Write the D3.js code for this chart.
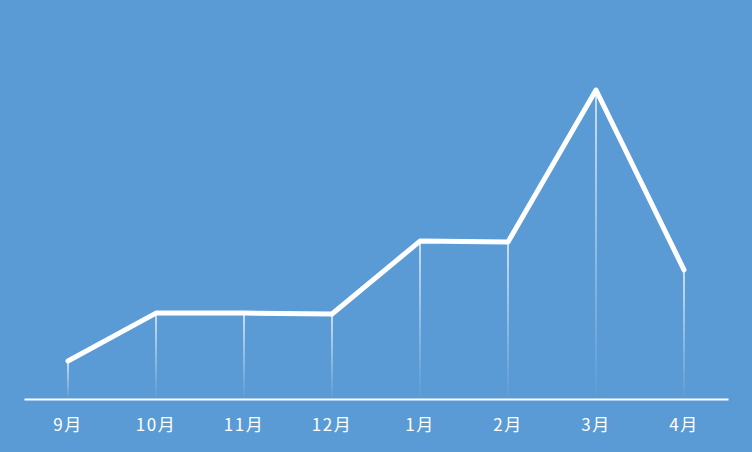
<!DOCTYPE html>
<html>
<head>
<meta charset="utf-8">
<script src="https://cdn.jsdelivr.net/npm/d3@7"></script>
<style>
  body { margin: 0; background: #5b9bd5; }
  svg { display: block; }
</style>
</head>
<body>
<div id="chart"></div>
<script>
// chart size
var svgWidth = 752;
var svgHeight = 452;

// data
var months = ["9月", "10月", "11月", "12月", "1月", "2月", "3月", "4月"];
var values = [12.3, 27.8, 27.8, 27.5, 51.1, 50.8, 100, 41.8];

var svg = d3.select("#chart")
  .append("svg")
  .attr("width", svgWidth)
  .attr("height", svgHeight);

svg.append("rect")
  .attr("width", svgWidth)
  .attr("height", svgHeight)
  .attr("fill", "#5b9bd5");

// scales
var xScale = d3.scaleBand()
  .domain(months)
  .range([24, 728]);

var yScale = d3.scaleLinear()
  .domain([0, 100])
  .range([399, 90]);

var cx = d => xScale(d) + xScale.bandwidth() / 2;

// gradient for the drop lines
var grad = svg.append("defs").append("linearGradient")
  .attr("id", "fade")
  .attr("x1", 0).attr("y1", 0)
  .attr("x2", 0).attr("y2", 1);
grad.append("stop").attr("offset", "0%").attr("stop-color", "#fff").attr("stop-opacity", 0.9);
grad.append("stop").attr("offset", "100%").attr("stop-color", "#fff").attr("stop-opacity", 0);

// drop lines
svg.selectAll(".drop")
  .data(months)
  .enter()
  .append("rect")
  .attr("class", "drop")
  .attr("x", d => cx(d) - 0.75)
  .attr("width", 1.5)
  .attr("y", (d, i) => yScale(values[i]))
  .attr("height", (d, i) => yScale(0) - yScale(values[i]))
  .attr("fill", "url(#fade)");

// x axis
var xAxis = svg.append("g")
  .attr("transform", `translate(0, ${yScale(0)})`)
  .call(d3.axisBottom(xScale).tickSize(0).tickPadding(20));

xAxis.select(".domain")
  .attr("stroke", "#fff")
  .attr("stroke-width", 2);

xAxis.selectAll(".tick text")
  .attr("fill", "#fff")
  .attr("font-family", "'Noto Sans CJK SC', 'Noto Sans', sans-serif")
  .attr("font-size", "17px")
  .attr("letter-spacing", "1.5px")
  .style("font-size", "17px");

// line
var line = d3.line()
  .x((d, i) => cx(months[i]))
  .y(d => yScale(d));

svg.append("path")
  .datum(values)
  .attr("d", line)
  .attr("fill", "none")
  .attr("stroke", "#fff")
  .attr("stroke-width", 5)
  .attr("stroke-linejoin", "round")
  .attr("stroke-linecap", "round");
</script>
</body>
</html>
